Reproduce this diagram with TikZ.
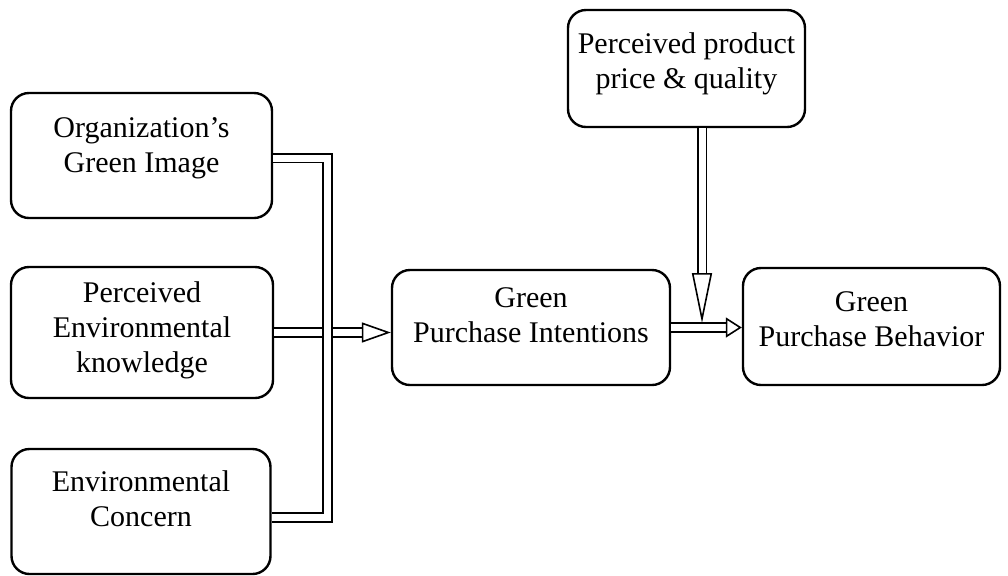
\documentclass[tikz,border=0pt]{standalone}
\usepackage{fontspec}
\setmainfont{Liberation Serif}
\usetikzlibrary{arrows.meta,calc}

\begin{document}
\begin{tikzpicture}[x=0.5pt,y=-0.5pt,every text node part/.style={align=center}]
\tikzset{myFont/.style={font=\fontsize{15}{17.5}\selectfont}}
\tikzset{myBox/.style={draw,rounded corners=9pt,line width=1.2pt,myFont,inner sep=2pt}}
\tikzset{myPipe/.style={double,double distance=3.5pt,line width=0.8pt}}
\tikzset{myHead/.style={-{Triangle[open,length=#1,width=10pt]}}}

\useasboundingbox (0,0) rectangle (1008,575);

% factors on the left
\node[myBox,minimum width=130.5pt,minimum height=62.5pt,text depth=10.5pt] (org) at (141.5,155.5) {Organization's\\Green Image};
\node[myBox,minimum width=131pt,minimum height=65.5pt,text depth=5.5pt] (know) at (142,332.5) {Perceived\\Environmental\\knowledge};
\node[myBox,minimum width=129.5pt,minimum height=62.5pt,text depth=12.5pt] (concern) at (141,511.5) {Environmental\\Concern};

% intention, behavior and moderator
\node[myBox,minimum width=139pt,minimum height=57.5pt,text depth=12.5pt] (intent) at (531,327.5) {Green\\Purchase Intentions};
\node[myBox,minimum width=128.5pt,minimum height=58.5pt,text depth=7.5pt] (behav) at (871.5,326.5) {Green\\Purchase Behavior};
\node[myBox,minimum width=118.5pt,minimum height=58.5pt,text depth=7.5pt] (price) at (686.5,68.5) {Perceived product\\price \& quality};

\coordinate (busTop) at (327.5,158);
\coordinate (busBot) at (327.5,517.5);
\coordinate (tip) at (702,323);

\draw[myPipe,myHead=14.5pt] (know.east) -- (know.east -| intent.west);
\draw[myPipe] (org.east |- busTop) -- (busTop) -- (busBot) -- (concern.east |- busBot);

\draw[myPipe,myHead=8pt] (intent.east) -- (intent.east -| behav.west);
\draw[myPipe,myHead=25pt] (price.south -| tip) -- (tip);

\end{tikzpicture}
\end{document}
